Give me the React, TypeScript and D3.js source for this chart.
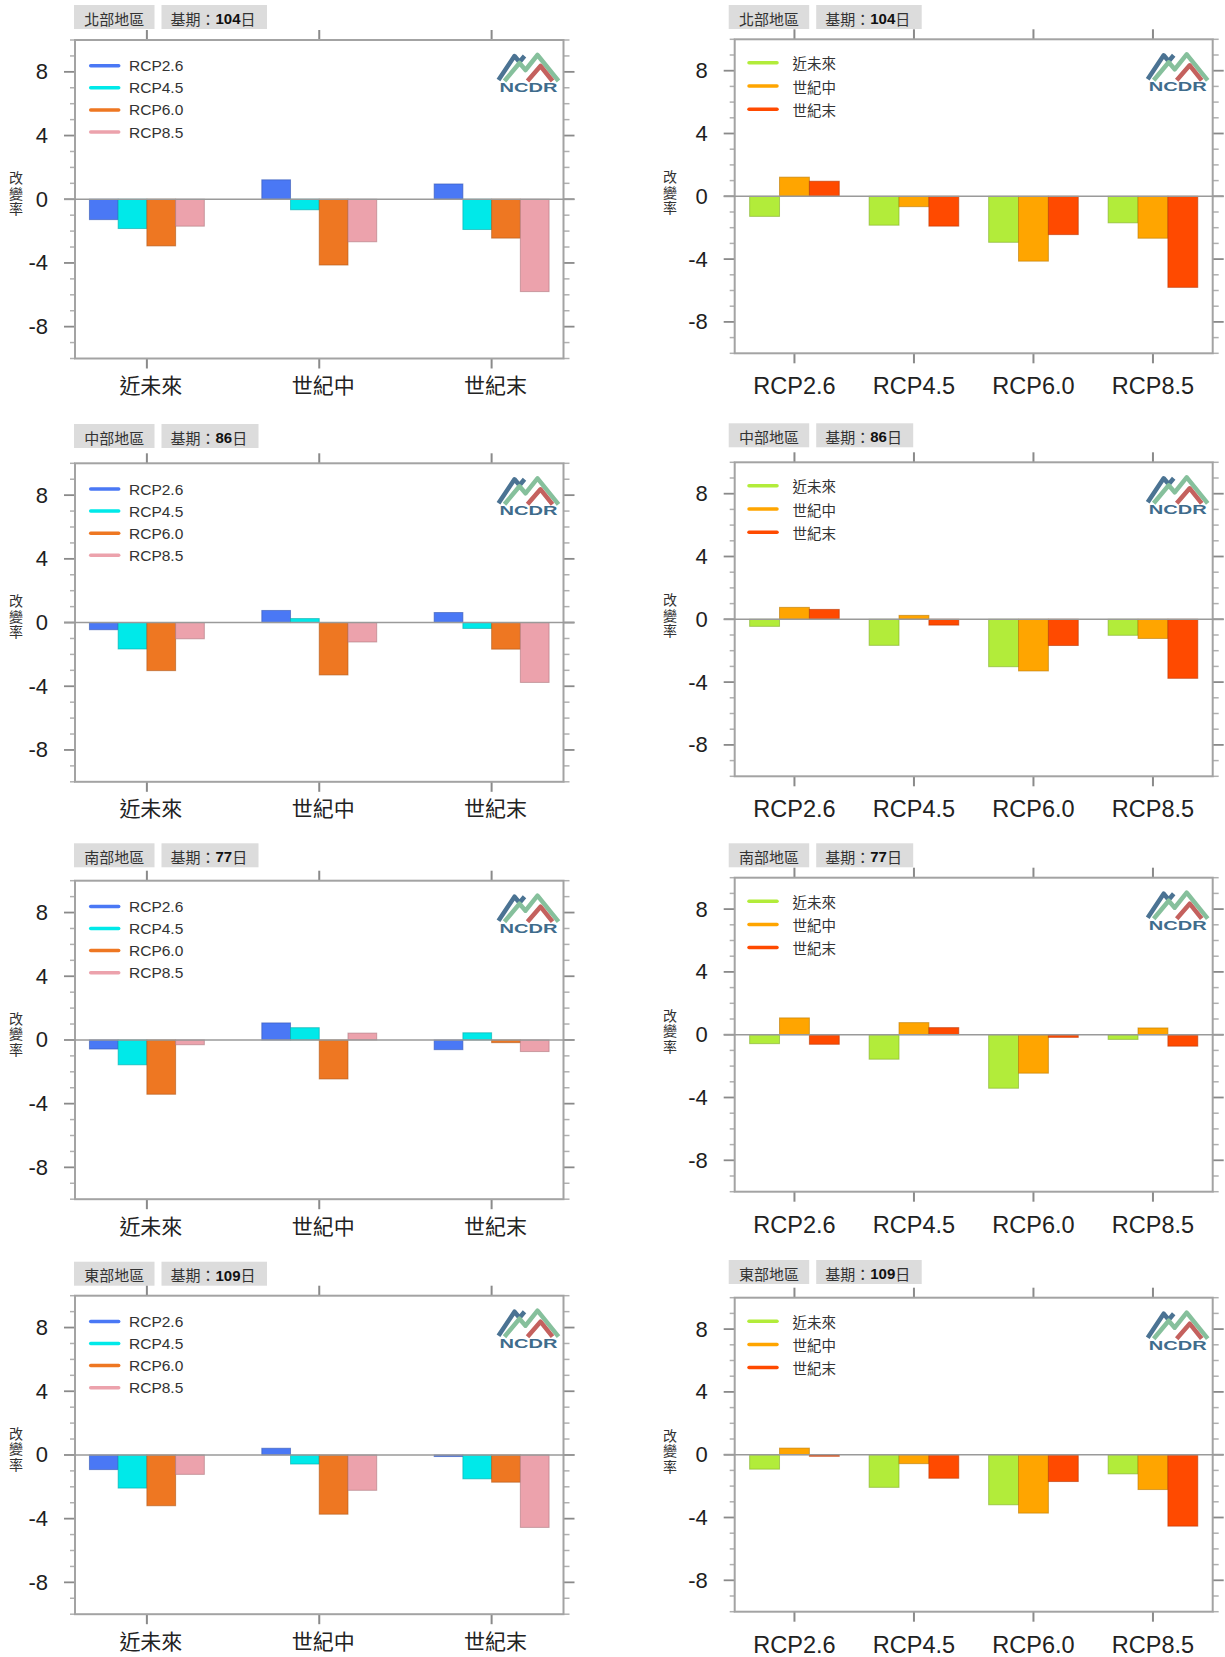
import React from "react";
import * as d3 from "d3";

// ---------------- data ----------------
const regions = ["北部地區", "中部地區", "南部地區", "東部地區"];
const baseDays = [104, 86, 77, 109];
const periods = ["近未來", "世紀中", "世紀末"];
const scenarios = ["RCP2.6", "RCP4.5", "RCP6.0", "RCP8.5"];
const yTicks = [-8, -4, 0, 4, 8];

// values[period][scenario] (改變率)
const northValues = [
  [-1.28, -1.84, -2.93, -1.69],
  [1.22, -0.66, -4.13, -2.67],
  [0.96, -1.9, -2.44, -5.8],
];
const centralValues = [
  [-0.45, -1.66, -3.02, -1.02],
  [0.76, 0.25, -3.29, -1.22],
  [0.63, -0.37, -1.67, -3.76],
];
const southValues = [
  [-0.57, -1.56, -3.41, -0.3],
  [1.07, 0.77, -2.45, 0.43],
  [-0.61, 0.45, -0.17, -0.73],
];
const eastValues = [
  [-0.92, -2.08, -3.19, -1.22],
  [0.42, -0.57, -3.72, -2.22],
  [-0.1, -1.5, -1.71, -4.55],
];
const regionValues = [northValues, centralValues, southValues, eastValues];

const scenarioColors = ["#4a78f5", "#00e9e9", "#ee7722", "#eca2ac"];
const periodColors = ["#b2ec3a", "#ffa500", "#ff4a00"];

// ---------------- layout ----------------
const FONT = "'Liberation Sans', Arial, 'Noto Sans CJK TC', sans-serif";
const CJK = "'Noto Sans CJK TC', 'Liberation Sans', sans-serif";

const leftCol = {
  x0: 75,
  x1: 563.5,
  h: 318.5,
  tops: [40, 463.3, 880.7, 1295.7],
  titleTops: [5, 424, 843.3, 1261.7],
  box1Dx: -1,
  yLabelDx: -27,
  yTitleX: 16,
  xLabelDy: 25.5,
  xLabelDx: 4,
};
const rightCol = {
  x0: 734.7,
  x1: 1212.7,
  h: 314,
  tops: [39.3, 462.3, 877.7, 1297.7],
  titleTops: [5, 423.3, 843.3, 1260],
  box1Dx: -6,
  yLabelDx: -27,
  yTitleX: 670,
  xLabelDy: 33,
  xLabelDx: 0,
};

function Logo({ x, y }: { x: number; y: number }) {
  return (
    <g transform={`translate(${x},${y})`}>
      <path d="M1,27 L17,3 L22,9 L27,3" fill="none" stroke="#4b7393" strokeWidth={4.5} strokeLinejoin="round" />
      <path d="M7,28 L22,10 L28,17 L40,2 L61,28" fill="none" stroke="#86c09c" strokeWidth={4.5} strokeLinejoin="round" />
      <path d="M30,28 L43,13 L55,28" fill="none" stroke="#c4615e" strokeWidth={4.5} strokeLinejoin="round" />
      <text x={2} y={39} fontFamily={FONT} fontWeight="bold" fontSize={13} fill="#3f6c8c" textLength={58} lengthAdjust="spacingAndGlyphs">
        NCDR
      </text>
    </g>
  );
}

function TitleBoxes({ x, y, region, days }: { x: number; y: number; region: string; days: number }) {
  const w1 = 80.5;
  const w2 = 20 + 60 + String(days).length * 8.5;
  const h = 24;
  return (
    <g>
      <rect x={x} y={y} width={w1} height={h} fill="#dcdcdc" />
      <text x={x + w1 / 2} y={y + h / 2 + 1} textAnchor="middle" dominantBaseline="central" fontFamily={CJK} fontSize={15} fill="#333">
        {region}
      </text>
      <rect x={x + w1 + 7} y={y} width={w2} height={h} fill="#dcdcdc" />
      <text x={x + w1 + 7 + 9} y={y + h / 2 + 1} dominantBaseline="central" fontFamily={CJK} fontSize={15} fill="#333">
        基期：
        <tspan fontFamily={FONT} fontWeight="bold" fill="#111">{days}</tspan>
        日
      </text>
    </g>
  );
}

function Panel({ kind, row }: { kind: "left" | "right"; row: number }) {
  const col = kind === "left" ? leftCol : rightCol;
  const top = col.tops[row];
  const bottom = top + col.h;
  const values = regionValues[row];

  const cats = kind === "left" ? periods : scenarios;
  const series = kind === "left" ? scenarios : periods;
  const colors = kind === "left" ? scenarioColors : periodColors;
  const getV = (ci: number, si: number) => (kind === "left" ? values[ci][si] : values[si][ci]);

  const x = d3
    .scaleBand<string>()
    .domain(cats)
    .range([col.x0, col.x1])
    .paddingInner(kind === "left" ? 1 / 3 : 0.25)
    .paddingOuter(kind === "left" ? 0.0837 : 0.125);
  const xs = d3.scaleBand<string>().domain(series).range([0, x.bandwidth()]);
  const y = d3.scaleLinear().domain([-10, 10]).range([bottom, top]);

  const minor = d3.range(-10, 11).filter((v) => !yTicks.includes(v));
  const frameColor = "#a3a3a3";
  const tickColor = "#8a8a8a";

  return (
    <g>
      <TitleBoxes x={col.x0 + col.box1Dx} y={col.titleTops[row]} region={regions[row]} days={baseDays[row]} />
      {/* ticks */}
      {minor.map((v) => (
        <g key={"m" + v}>
          <line x1={col.x0 - 5} x2={col.x0} y1={y(v)} y2={y(v)} stroke="#b0b0b0" strokeWidth={1.5} />
          <line x1={col.x1} x2={col.x1 + 6} y1={y(v)} y2={y(v)} stroke="#b0b0b0" strokeWidth={1.5} />
        </g>
      ))}
      {yTicks.map((v) => (
        <g key={"t" + v}>
          <line x1={col.x0 - 11} x2={col.x0} y1={y(v)} y2={y(v)} stroke={tickColor} strokeWidth={1.8} />
          <line x1={col.x1} x2={col.x1 + 11} y1={y(v)} y2={y(v)} stroke={tickColor} strokeWidth={1.8} />
          <text x={col.x0 + col.yLabelDx} y={y(v)} textAnchor="end" dominantBaseline="central" fontFamily={FONT} fontSize={22} fill="#1e1e1e">
            {v}
          </text>
        </g>
      ))}
      {cats.map((c) => {
        const cx = (x(c) as number) + x.bandwidth() / 2;
        return (
          <g key={"x" + c}>
            <line x1={cx} x2={cx} y1={top - 10} y2={top} stroke={tickColor} strokeWidth={2} />
            <line x1={cx} x2={cx} y1={bottom} y2={bottom + 10} stroke={tickColor} strokeWidth={2} />
            <text
              x={cx + col.xLabelDx}
              y={bottom + col.xLabelDy}
              textAnchor="middle"
              dominantBaseline="central"
              fontFamily={kind === "left" ? CJK : FONT}
              fontSize={kind === "left" ? 21 : 23.5}
              fill="#222"
            >
              {c}
            </text>
          </g>
        );
      })}
      {/* frame */}
      <rect x={col.x0} y={top} width={col.x1 - col.x0} height={col.h} fill="#fff" stroke={frameColor} strokeWidth={2} />
      {/* bars */}
      {cats.map((c, ci) =>
        series.map((s, si) => {
          const v = getV(ci, si);
          const bx = (x(c) as number) + (xs(s) as number);
          return (
            <rect
              key={c + s}
              x={bx}
              y={y(Math.max(v, 0))}
              width={xs.bandwidth()}
              height={Math.abs(y(v) - y(0))}
              fill={colors[si]}
              stroke={d3.color(colors[si])!.darker(0.9).formatHex()}
              strokeOpacity={0.6}
              strokeWidth={1}
            />
          );
        })
      )}
      {/* zero line */}
      <line x1={col.x0 - 11} x2={col.x1 + 11} y1={y(0)} y2={y(0)} stroke="#9a9a9a" strokeWidth={1.6} />
      {/* legend */}
      {series.map((s, si) => {
        const ly = kind === "left" ? top + 25.7 + si * 22.1 : top + 23.5 + si * 23.2;
        const lx0 = kind === "left" ? col.x0 + 15.7 : col.x0 + 14.3;
        return (
          <g key={"lg" + s}>
            <line x1={lx0} x2={lx0 + 28} y1={ly} y2={ly} stroke={colors[si]} strokeWidth={3.5} strokeLinecap="round" />
            <text
              x={kind === "left" ? col.x0 + 54 : col.x0 + 57.7}
              y={ly}
              dominantBaseline="central"
              fontFamily={kind === "left" ? FONT : CJK}
              fontSize={kind === "left" ? 15.5 : 14.5}
              fill="#333"
            >
              {s}
            </text>
          </g>
        );
      })}
      <Logo x={col.x1 - 66} y={top + 13} />
      {/* y title (vertical, upright characters) */}
      <text
        x={col.yTitleX}
        y={top + 154}
        textAnchor="middle"
        fontFamily={CJK}
        fontSize={14}
        letterSpacing={1.5}
        fill="#333"
        style={{ writingMode: "vertical-rl" }}
      >
        改變率
      </text>
    </g>
  );
}

export default function App() {
  return (
    <svg
      width={1225}
      height={1657}
      viewBox="0 0 1225 1657"
      style={{ position: "absolute", left: 0, top: 0, background: "#fff" }}
    >
      <rect width={1225} height={1657} fill="#fff" />
      {regions.map((r, i) => (
        <g key={r}>
          <Panel kind="left" row={i} />
          <Panel kind="right" row={i} />
        </g>
      ))}
    </svg>
  );
}
